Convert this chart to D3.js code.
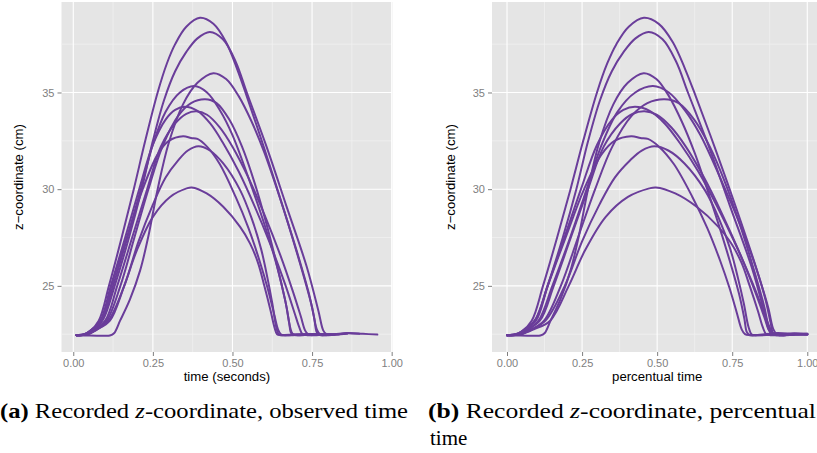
<!DOCTYPE html>
<html><head><meta charset="utf-8">
<script src="https://cdn.jsdelivr.net/npm/d3@7"></script>
<style>body{margin:0;background:#fff} svg{display:block}</style>
</head><body>
<svg id="c" width="817" height="453"></svg>
<script>
// ---- data: recorded z-coordinate (cm) against observed time (s), one array per trial ----
const curveA = [[0.01,22.45],[0.03,22.48],[0.05,22.62],[0.08,23.2],[0.112,25.0],[0.152,27.5],[0.19,30.0],[0.226,32.5],[0.265,35.0],[0.294,36.5],[0.32,37.5],[0.355,38.4],[0.398,38.86],[0.44,38.55],[0.48,37.6],[0.515,36.2],[0.545,34.8],[0.60,32.1],[0.66,29.0],[0.715,26.0],[0.75,23.9],[0.765,22.75],[0.775,22.5],[0.80,22.45],[0.84,22.5],[0.861,22.52]];
const curveB = [[0.01,22.45],[0.04,22.5],[0.065,22.72],[0.095,23.3],[0.13,25.0],[0.175,27.5],[0.215,30.0],[0.25,32.5],[0.285,34.6],[0.32,36.1],[0.355,37.1],[0.39,37.8],[0.429,38.13],[0.47,37.75],[0.51,36.6],[0.545,35.0],[0.607,32.2],[0.67,29.1],[0.733,26.0],[0.77,23.7],[0.785,22.7],[0.795,22.5],[0.82,22.47],[0.86,22.55],[0.898,22.52]];
const curveC = [[0.01,22.45],[0.05,22.43],[0.09,22.42],[0.115,22.43],[0.128,22.55],[0.147,23.2],[0.178,24.3],[0.21,25.8],[0.235,27.5],[0.265,30.0],[0.30,32.4],[0.345,34.4],[0.39,35.5],[0.44,36.0],[0.48,35.7],[0.52,34.8],[0.56,33.5],[0.60,31.9],[0.65,29.5],[0.70,26.9],[0.74,24.6],[0.757,23.3],[0.765,22.6],[0.775,22.45],[0.82,22.5],[0.86,22.56],[0.91,22.52],[0.955,22.48]];
const curveD = [[0.01,22.45],[0.04,22.5],[0.062,22.7],[0.09,23.2],[0.125,25.0],[0.17,27.5],[0.212,30.0],[0.25,32.3],[0.29,34.0],[0.335,35.0],[0.38,35.33],[0.42,35.0],[0.46,34.1],[0.50,32.8],[0.55,30.6],[0.60,28.2],[0.64,26.0],[0.665,24.3],[0.678,23.1],[0.685,22.55],[0.70,22.45],[0.74,22.5],[0.771,22.5]];
const curveE = [[0.01,22.45],[0.045,22.5],[0.07,22.72],[0.105,23.2],[0.148,25.0],[0.192,27.5],[0.236,30.0],[0.28,32.2],[0.33,33.8],[0.37,34.45],[0.414,34.65],[0.45,34.45],[0.49,33.6],[0.53,32.2],[0.57,30.3],[0.61,28.0],[0.645,25.7],[0.67,23.9],[0.682,22.8],[0.69,22.5],[0.71,22.45],[0.75,22.5],[0.78,22.5]];
const curveF = [[0.01,22.45],[0.035,22.5],[0.055,22.7],[0.085,23.2],[0.118,25.0],[0.163,27.5],[0.207,30.0],[0.25,32.3],[0.29,33.6],[0.32,34.1],[0.351,34.26],[0.39,34.05],[0.43,33.4],[0.47,32.4],[0.52,30.9],[0.57,29.1],[0.62,27.1],[0.665,25.1],[0.695,23.6],[0.71,22.85],[0.72,22.5],[0.735,22.45],[0.78,22.5],[0.81,22.5]];
const curveG = [[0.01,22.45],[0.04,22.5],[0.06,22.7],[0.10,23.2],[0.138,25.0],[0.185,27.5],[0.232,30.0],[0.275,32.2],[0.32,33.4],[0.355,33.9],[0.387,34.03],[0.42,33.85],[0.46,33.2],[0.50,32.2],[0.55,30.6],[0.60,28.7],[0.65,26.6],[0.69,24.7],[0.715,23.4],[0.728,22.7],[0.737,22.5],[0.75,22.45],[0.80,22.5],[0.833,22.5]];
const curveH = [[0.01,22.45],[0.035,22.5],[0.055,22.7],[0.088,23.2],[0.12,25.0],[0.168,27.5],[0.218,30.0],[0.265,31.8],[0.30,32.5],[0.345,32.74],[0.37,32.65],[0.39,32.6],[0.42,32.2],[0.46,31.3],[0.51,29.6],[0.55,28.0],[0.585,26.3],[0.61,24.9],[0.63,23.6],[0.643,22.75],[0.652,22.5],[0.665,22.45],[0.75,22.5],[0.82,22.5]];
const curveI = [[0.01,22.45],[0.045,22.5],[0.07,22.7],[0.11,23.2],[0.16,25.0],[0.205,27.3],[0.25,29.2],[0.29,30.6],[0.33,31.5],[0.36,32.0],[0.393,32.22],[0.429,32.0],[0.471,31.33],[0.524,29.95],[0.56,28.5],[0.59,26.9],[0.61,25.4],[0.625,24.1],[0.637,22.9],[0.645,22.5],[0.655,22.45],[0.73,22.5],[0.79,22.5]];
const curveJ = [[0.01,22.45],[0.045,22.5],[0.075,22.75],[0.115,23.2],[0.16,25.0],[0.20,26.85],[0.25,28.57],[0.304,29.6],[0.356,30.04],[0.372,30.09],[0.419,29.78],[0.471,29.09],[0.524,28.05],[0.555,27.2],[0.58,26.2],[0.60,25.0],[0.62,23.7],[0.632,22.85],[0.64,22.5],[0.65,22.45],[0.70,22.5],[0.74,22.5]];
const trials = [curveA, curveB, curveC, curveD, curveE, curveF, curveG, curveH, curveI, curveJ];

const xTickValues = [0, 0.25, 0.5, 0.75, 1];
const yTickValues = [25, 30, 35];
const xMinor = [0.125, 0.375, 0.625, 0.875];
const yMinor = [22.5, 27.5, 32.5, 37.5];
const xTitles = ["time (seconds)", "percentual time"];
const yTitle = "z\u2212coordinate (cm)";

// percentual time: each trial rescaled from its first to its last recorded sample
const percentual = trials.map(c => {
  const t0 = c[0][0], t1 = c[c.length - 1][0];
  return c.map(([t, z]) => [(t - t0) / (t1 - t0), z]);
});

const svg = d3.select("#c");
const purple = "#6A3D9A";
const yDomain = [21.58, 39.68];
const panelTop = 2, panelBottom = 352;

function panel(id, series, xDomain, xRange, xTitle, yTitleX) {
  const x = d3.scaleLinear().domain(xDomain).range(xRange);
  const y = d3.scaleLinear().domain(yDomain).range([panelBottom, panelTop]);
  const g = svg.append("g");
  g.append("clipPath").attr("id", id).append("rect")
    .attr("x", xRange[0]).attr("y", panelTop).attr("width", xRange[1]-xRange[0]).attr("height", panelBottom-panelTop);
  g.append("rect").attr("x", xRange[0]).attr("y", panelTop)
    .attr("width", xRange[1]-xRange[0]).attr("height", panelBottom-panelTop).attr("fill", "#E5E5E5");
  const grid = g.append("g").attr("clip-path", `url(#${id})`);
  grid.selectAll(".xm").data(xMinor).join("line").attr("x1", x).attr("x2", x)
    .attr("y1", panelTop).attr("y2", panelBottom).attr("stroke", "#F2F2F2").attr("stroke-width", 0.7);
  grid.selectAll(".ym").data(yMinor).join("line").attr("y1", y).attr("y2", y)
    .attr("x1", xRange[0]).attr("x2", xRange[1]).attr("stroke", "#F2F2F2").attr("stroke-width", 0.7);
  grid.selectAll(".xM").data(xTickValues).join("line").attr("x1", x).attr("x2", x)
    .attr("y1", panelTop).attr("y2", panelBottom).attr("stroke", "#fff").attr("stroke-width", 1.1);
  grid.selectAll(".yM").data(yTickValues).join("line").attr("y1", y).attr("y2", y)
    .attr("x1", xRange[0]).attr("x2", xRange[1]).attr("stroke", "#fff").attr("stroke-width", 1.1);

  const line = d3.line().x(d => x(d[0])).y(d => y(d[1])).curve(d3.curveCatmullRom.alpha(0.5));
  g.append("g").attr("clip-path", `url(#${id})`).selectAll("path").data(series).join("path")
    .attr("d", line).attr("fill", "none").attr("stroke", purple).attr("stroke-width", 2)
    .attr("stroke-linejoin", "round").attr("stroke-linecap", "round");

  const xa = g.append("g").attr("transform", `translate(0,${panelBottom})`)
    .call(d3.axisBottom(x).tickValues(xTickValues).tickFormat(d3.format(".2f")).tickSize(4).tickPadding(3));
  const ya = g.append("g").attr("transform", `translate(${xRange[0]},0)`)
    .call(d3.axisLeft(y).tickValues(yTickValues).tickFormat(d3.format("d")).tickSize(4).tickPadding(3));
  [xa, ya].forEach(a => {
    a.select(".domain").remove();
    a.selectAll("line").attr("stroke", "#7F7F7F");
    a.selectAll("text").attr("fill", "#808080").style("font-family", "Liberation Sans, Arial, sans-serif").style("font-size", "11px");
  });
  g.append("text").attr("x", (xRange[0]+xRange[1])/2).attr("y", 381).attr("text-anchor", "middle")
    .style("font-family", "Liberation Sans, Arial, sans-serif").style("font-size", "13.2px").attr("fill", "#000").text(xTitle);
  g.append("text").attr("transform", `translate(${yTitleX},${(panelTop+panelBottom)/2}) rotate(-90)`)
    .attr("text-anchor", "middle").attr("dy", "0.35em")
    .style("font-family", "Liberation Sans, Arial, sans-serif").style("font-size", "13.2px").attr("fill", "#000").text(yTitle);
}

panel("clipL", trials, [-0.037, 1.002], [61.5, 392.3], xTitles[0], 18);
panel("clipR", percentual, [-0.05, 1.05], [492, 822.3], xTitles[1], 450);

// ---- captions ----
function caption(x, yb, label, rest, textLen) {
  const t = svg.append("text").attr("x", x).attr("y", yb)
    .style("font-family", "Liberation Serif, Times New Roman, serif").style("font-size", "21px").attr("fill", "#000");
  t.append("tspan").attr("font-weight", "bold").text(label);
  t.append("tspan").text(" Recorded ");
  t.append("tspan").attr("font-style", "italic").text("z");
  t.append("tspan").text(rest);
  if (textLen) t.attr("textLength", textLen).attr("lengthAdjust", "spacingAndGlyphs");
}
caption(0, 418, "(a)", "-coordinate, observed time", 408);
caption(428, 418, "(b)", "-coordinate, percentual", 388);
svg.append("text").attr("x", 430).attr("y", 445)
  .style("font-family", "Liberation Serif, Times New Roman, serif").style("font-size", "21px").attr("fill", "#000").text("time");
</script>
</body></html>
